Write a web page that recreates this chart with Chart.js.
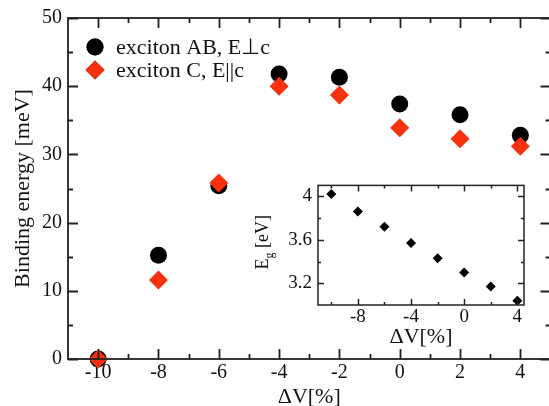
<!DOCTYPE html>
<html>
<head>
<meta charset="utf-8">
<script src="https://cdn.jsdelivr.net/npm/chart.js@4"></script>
<style>
  html, body { margin: 0; padding: 0; background: #fff; overflow: hidden; }
  #wrap { position: relative; width: 549px; height: 406px; overflow: hidden; }
  #main { position: absolute; left: 0; top: 0; }
  #inset { position: absolute; left: 230px; top: 168px; }
</style>
</head>
<body>
<div id="wrap">
  <canvas id="main" width="560" height="406"></canvas>
  <canvas id="inset" width="300" height="180"></canvas>
</div>
<script>
// volume change in percent
const dv = [-10, -8, -6, -4, -2, 0, 2, 4];
// exciton binding energies [meV]
const excitonAB = [0, 15.2, 25.4, 41.8, 41.3, 37.4, 35.8, 32.8];
const excitonC = [0, 11.6, 25.8, 40.0, 38.7, 33.9, 32.3, 31.2];
// band gap for the inset [eV]
const gapEg = [4.02, 3.86, 3.72, 3.57, 3.43, 3.30, 3.17, 3.04];

// ticks
const mainXTicks = [-10, -8, -6, -4, -2, 0, 2, 4];
const mainXMinor = [-9, -7, -5, -3, -1, 1, 3];
const mainYTicks = [0, 10, 20, 30, 40, 50];
const mainYMinor = [5, 15, 25, 35, 45];
const insetXTicks = [-8, -4, 0, 4];
const insetXMinor = [-10, -6, -2, 2];
const insetYTicks = [3.2, 3.6, 4.0];
const insetYMinor = [3.4, 3.8];

const SERIF = "'Liberation Serif', 'Times New Roman', serif";
const INK = '#111';
const RED = '#f7300e';

Chart.defaults.font.family = SERIF;
Chart.defaults.color = INK;

function pts(xs, ys) {
    return xs.map((x, i) => ({ x: x, y: ys[i] }));
}

function fixTicks(values) {
    return function(scale) {
        scale.ticks = values.map(v => ({ value: v }));
    };
}

// draws the box and inward ticks on all four sides (xmgrace style)
const framePlugin = {
    id: 'frame',
    afterDatasetsDraw(chart, args, opts) {
        const ctx = chart.ctx;
        const a = chart.chartArea;
        const xs = chart.scales.x, ys = chart.scales.y;
        ctx.save();
        ctx.strokeStyle = '#222';
        ctx.lineWidth = opts.lineWidth;
        ctx.strokeRect(a.left, a.top, a.right - a.left, a.bottom - a.top);
        ctx.beginPath();
        const tickX = (vals, len) => vals.forEach(v => {
            const px = Math.round(xs.getPixelForValue(v)) + 0.5;
            ctx.moveTo(px, a.bottom); ctx.lineTo(px, a.bottom - len);
            ctx.moveTo(px, a.top); ctx.lineTo(px, a.top + len);
        });
        const tickY = (vals, len) => vals.forEach(v => {
            const py = Math.round(ys.getPixelForValue(v)) + 0.5;
            ctx.moveTo(a.left, py); ctx.lineTo(a.left + len, py);
            ctx.moveTo(a.right, py); ctx.lineTo(a.right - len, py);
        });
        tickX(opts.xMajor, opts.major);
        tickX(opts.xMinor, opts.minor);
        tickY(opts.yMajor, opts.major);
        tickY(opts.yMinor, opts.minor);
        ctx.stroke();
        ctx.restore();
    }
};

// legend inside the plot, top left
const legendPlugin = {
    id: 'innerLegend',
    afterDraw(chart) {
        const ctx = chart.ctx;
        const a = chart.chartArea;
        const x0 = a.left + 27;
        let y0 = a.top + 29;
        ctx.save();
        ctx.font = '22px ' + SERIF;
        ctx.textBaseline = 'middle';
        ctx.fillStyle = INK;
        chart.data.datasets.forEach(ds => {
            Chart.helpers.drawPoint(ctx, {
                pointStyle: ds.pointStyle,
                radius: ds.pointRadius,
                rotation: 0,
                borderWidth: 0
            }, x0, y0);
            ctx.fillStyle = ds.backgroundColor;
            ctx.fill();
            ctx.fillStyle = INK;
            ctx.fillText(ds.label, x0 + 21, y0 + 1);
            y0 += 23;
        });
        ctx.restore();
    }
};

new Chart(document.getElementById('main'), {
    type: 'scatter',
    data: {
        datasets: [
            {
                label: 'exciton AB, E\u22A5c',
                data: pts(dv, excitonAB),
                pointStyle: 'circle',
                pointRadius: 8.5,
                backgroundColor: '#000',
                borderWidth: 0,
                clip: false,
                order: 2
            },
            {
                label: 'exciton C, E||c',
                data: pts(dv, excitonC),
                pointStyle: 'rectRot',
                pointRadius: 9.5,
                backgroundColor: RED,
                borderWidth: 0,
                clip: false,
                order: 1
            }
        ]
    },
    options: {
        responsive: false,
        animation: false,
        events: [],
        layout: { padding: { top: 18, right: 4, left: 0, bottom: 0 } },
        plugins: {
            legend: { display: false },
            tooltip: { enabled: false },
            frame: {
                lineWidth: 1.8, major: 10, minor: 5,
                xMajor: mainXTicks, xMinor: mainXMinor,
                yMajor: mainYTicks, yMinor: mainYMinor
            }
        },
        scales: {
            x: {
                type: 'linear',
                min: -11, max: 5,
                afterBuildTicks: fixTicks(mainXTicks),
                afterFit: s => { s.height = 47; },
                grid: { display: false, drawTicks: false },
                border: { display: false },
                ticks: { font: { size: 20 }, padding: 2, maxRotation: 0, autoSkip: false,
                    callback: v => String(v) },
                title: { display: true, text: '\u0394V[%]', font: { size: 22, lineHeight: 1 },
                    padding: { top: 0, bottom: -2 } }
            },
            y: {
                min: 0, max: 50,
                afterBuildTicks: fixTicks(mainYTicks),
                afterFit: s => { s.width = 68; },
                grid: { display: false, drawTicks: false },
                border: { display: false },
                ticks: { font: { size: 20 }, padding: 6, callback: v => String(v) },
                title: { display: true, text: 'Binding energy [meV]', font: { size: 22, lineHeight: 1 },
                    padding: { top: 12.5, bottom: 0 } }
            }
        }
    },
    plugins: [framePlugin, legendPlugin]
});

// y title of the inset with the subscript g
const egTitlePlugin = {
    id: 'egTitle',
    afterDraw(chart) {
        const ctx = chart.ctx;
        const a = chart.chartArea;
        const big = '18px ' + SERIF, small = '12px ' + SERIF;
        ctx.save();
        ctx.fillStyle = INK;
        ctx.textBaseline = 'alphabetic';
        ctx.font = big; const wE = ctx.measureText('E').width;
        const wRest = ctx.measureText(' [eV]').width;
        ctx.font = small; const wg = ctx.measureText('g').width;
        const total = wE + wg + wRest;
        ctx.translate(a.left - 50, (a.top + a.bottom) / 2 - 3);
        ctx.rotate(-Math.PI / 2);
        let x = -total / 2;
        ctx.font = big; ctx.fillText('E', x, 0); x += wE;
        ctx.font = small; ctx.fillText('g', x, 5); x += wg;
        ctx.font = big; ctx.fillText(' [eV]', x, 0);
        ctx.restore();
    }
};

new Chart(document.getElementById('inset'), {
    type: 'scatter',
    data: {
        datasets: [{
            label: 'Eg',
            data: pts(dv, gapEg),
            pointStyle: 'rectRot',
            pointRadius: 5,
            backgroundColor: '#000',
            borderWidth: 0,
            clip: false
        }]
    },
    options: {
        responsive: false,
        animation: false,
        events: [],
        layout: { padding: { top: 6, right: 6, left: 0, bottom: 0 } },
        plugins: {
            legend: { display: false },
            tooltip: { enabled: false },
            frame: {
                lineWidth: 1.5, major: 6, minor: 3,
                xMajor: insetXTicks, xMinor: insetXMinor,
                yMajor: insetYTicks, yMinor: insetYMinor
            }
        },
        scales: {
            x: {
                type: 'linear',
                min: -11, max: 4.5,
                afterBuildTicks: fixTicks(insetXTicks),
                afterFit: s => { s.height = 43; },
                grid: { display: false, drawTicks: false },
                border: { display: false },
                ticks: { font: { size: 19 }, padding: 1, maxRotation: 0, autoSkip: false,
                    callback: v => String(v) },
                title: { display: true, text: '\u0394V[%]', font: { size: 22, lineHeight: 1 },
                    padding: { top: 0, bottom: 0 } }
            },
            y: {
                min: 3.0, max: 4.1,
                afterBuildTicks: fixTicks(insetYTicks),
                afterFit: s => { s.width = 88; },
                grid: { display: false, drawTicks: false },
                border: { display: false },
                ticks: { font: { size: 19 }, padding: 6, callback: v => String(v) }
            }
        }
    },
    plugins: [framePlugin, egTitlePlugin]
});
</script>
</body>
</html>
